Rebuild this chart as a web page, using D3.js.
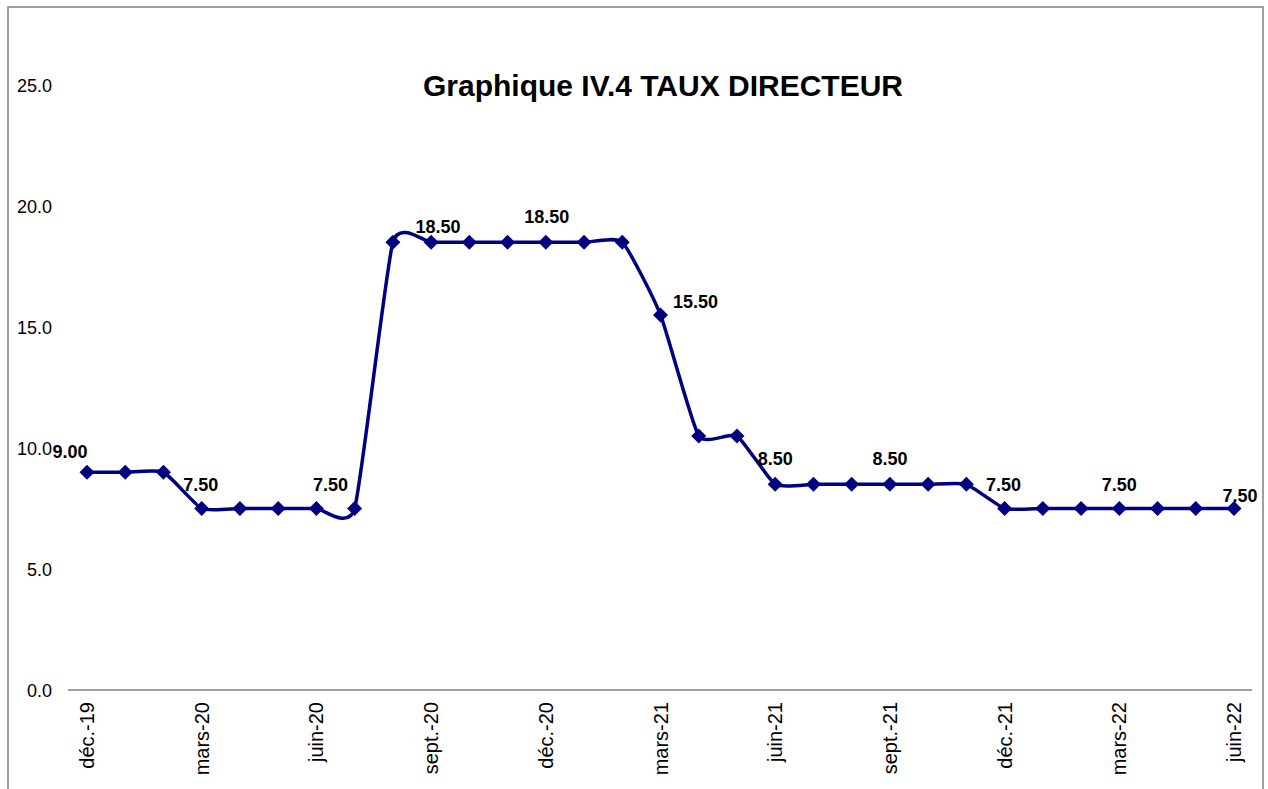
<!DOCTYPE html>
<html>
<head>
<meta charset="utf-8">
<script src="https://cdn.jsdelivr.net/npm/d3@7"></script>
<style>
  body { margin: 0; background: #fff; }
  text { font-family: "Liberation Sans", Arial, sans-serif; }
</style>
</head>
<body>
<div class="chart"></div>
<script>
  var months = ["déc.-19","janv.-20","févr.-20","mars-20","avr.-20","mai-20","juin-20","juil.-20","août-20",
                "sept.-20","oct.-20","nov.-20","déc.-20","janv.-21","févr.-21","mars-21","avr.-21","mai-21",
                "juin-21","juil.-21","août-21","sept.-21","oct.-21","nov.-21","déc.-21","janv.-22","févr.-22",
                "mars-22","avr.-22","mai-22","juin-22"];
  var rates = [9.0, 9.0, 9.0, 7.5, 7.5, 7.5, 7.5, 7.5, 18.5, 18.5, 18.5, 18.5, 18.5, 18.5, 18.5, 15.5,
               10.5, 10.5, 8.5, 8.5, 8.5, 8.5, 8.5, 8.5, 7.5, 7.5, 7.5, 7.5, 7.5, 7.5, 7.5];
  var labelIdx = [0, 3, 6, 9, 12, 15, 18, 21, 24, 27, 30];
  var yTicks = [0, 5, 10, 15, 20, 25];

  var width = 1268, height = 789;

  var svg = d3.select('.chart').append('svg')
      .attr('width', width)
      .attr('height', height);

  // outer frame
  svg.append('rect')
      .attr('x', 8).attr('y', 7)
      .attr('width', 1255).attr('height', 800)
      .attr('fill', 'none')
      .attr('stroke', '#808080')
      .attr('stroke-width', 1.5);

  var xScale = d3.scalePoint()
      .domain(months)
      .range([87, 1234]);

  var yScale = d3.scaleLinear()
      .domain([0, 25])
      .range([690, 85]);

  // x axis line
  svg.append('line')
      .attr('x1', 68).attr('x2', 1252)
      .attr('y1', yScale(0)).attr('y2', yScale(0))
      .attr('stroke', '#808080')
      .attr('stroke-width', 1.3);

  // x tick labels (every 3 months)
  svg.selectAll('.xlab')
      .data(months.filter(function(d, i) { return i % 3 === 0; }))
      .enter().append('text')
      .attr('class', 'xlab')
      .attr('transform', function(d) {
          return 'translate(' + (xScale(d) + 7) + ',' + 702 + ') rotate(-90)';
      })
      .attr('text-anchor', 'end')
      .attr('font-size', 20)
      .attr('fill', '#000')
      .text(function(d) { return d; });

  // y tick labels
  svg.selectAll('.ylab')
      .data(yTicks)
      .enter().append('text')
      .attr('class', 'ylab')
      .attr('x', 52)
      .attr('y', function(d) { return yScale(d) + 6.5; })
      .attr('text-anchor', 'end')
      .attr('font-size', 18)
      .attr('fill', '#000')
      .text(function(d) { return d.toFixed(1); });

  // title
  svg.append('text')
      .attr('x', 663).attr('y', 96)
      .attr('text-anchor', 'middle')
      .attr('font-size', 30)
      .attr('font-weight', 'bold')
      .text('Graphique IV.4 TAUX DIRECTEUR');

  var line = d3.line()
      .x(function(d, i) { return xScale(months[i]); })
      .y(function(d) { return yScale(d); })
      .curve(d3.curveCardinal.tension(0.5));

  svg.append('path')
      .datum(rates)
      .attr('d', line)
      .attr('fill', 'none')
      .attr('stroke', '#000080')
      .attr('stroke-width', 3.5);

  var r = 7.5;
  var diamond = 'M0,' + (-r) + 'L' + r + ',0L0,' + r + 'L' + (-r) + ',0Z';

  svg.selectAll('.pt')
      .data(rates)
      .enter().append('path')
      .attr('class', 'pt')
      .attr('d', diamond)
      .attr('transform', function(d, i) {
          return 'translate(' + xScale(months[i]) + ',' + yScale(d) + ')';
      })
      .attr('fill', '#000080');

  // data labels
  var labelDx = {0: -17, 3: -1, 6: 14, 9: 7, 12: 1, 15: 35, 18: 0, 21: 0, 24: -1, 27: 0, 30: 6};
  var labelDy = {0: -14, 3: -18, 6: -18, 9: -9, 12: -19, 15: -7, 18: -19, 21: -19, 24: -18, 27: -18, 30: -7};

  svg.selectAll('.dlab')
      .data(labelIdx)
      .enter().append('text')
      .attr('class', 'dlab')
      .attr('x', function(i) { return xScale(months[i]) + labelDx[i]; })
      .attr('y', function(i) { return yScale(rates[i]) + labelDy[i]; })
      .attr('text-anchor', 'middle')
      .attr('font-size', 18)
      .attr('font-weight', 'bold')
      .text(function(i) { return rates[i].toFixed(2); });
</script>
</body>
</html>
